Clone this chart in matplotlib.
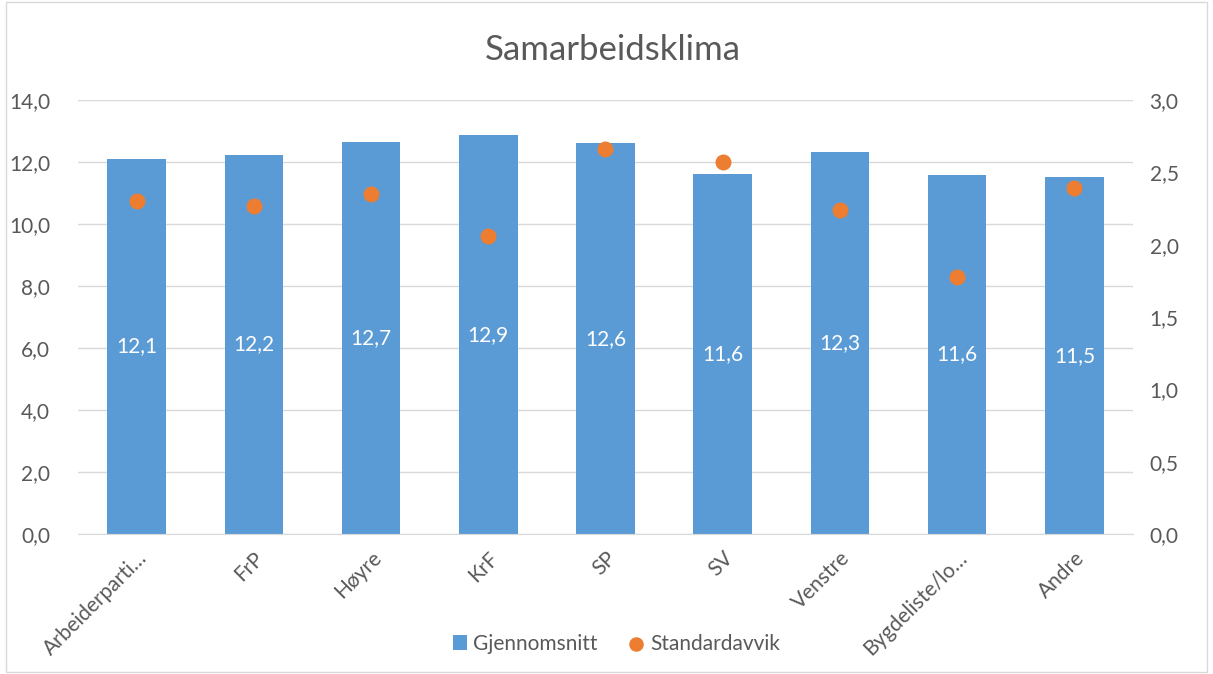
import numpy as np
import matplotlib
matplotlib.use("Agg")
import matplotlib.pyplot as plt
from matplotlib.ticker import FuncFormatter, MultipleLocator
from matplotlib.patches import Rectangle

plt.rcParams['font.family'] = ['Lato', 'DejaVu Sans']

# data
partier = ["Arbeiderparti…", "FrP", "Høyre", "KrF", "SP", "SV", "Venstre", "Bygdeliste/lo…", "Andre"]
gjennomsnitt = [12.1, 12.23, 12.65, 12.86, 12.6, 11.62, 12.33, 11.58, 11.51]
standardavvik = [2.30, 2.27, 2.35, 2.06, 2.66, 2.57, 2.24, 1.78, 2.39]

blaa = "#5b9bd5"
oransje = "#ed7d31"
graa = "#595959"

fig = plt.figure(figsize=(12.13, 6.74), dpi=100)
ax = fig.add_axes([0.0643, 0.2077, 0.8697, 0.6439])
ax2 = ax.twinx()

x = np.arange(len(partier))
bars = ax.bar(x, gjennomsnitt, width=0.5, color=blaa, zorder=2, label="Gjennomsnitt")
ax2.scatter(x, standardavvik, s=110, color=oransje, zorder=3, label="Standardavvik")

# dataetiketter
for xi, v in zip(x, gjennomsnitt):
    ax.text(xi, v / 2, f"{v:.1f}".replace(".", ","), ha="center", va="center",
            color="white", fontsize=15)

ax.set_xlim(-0.5, len(partier) - 0.5)
ax.set_ylim(0, 14)
ax2.set_ylim(0, 3)
ax.yaxis.set_major_locator(MultipleLocator(2))
ax2.yaxis.set_major_locator(MultipleLocator(0.5))
komma = FuncFormatter(lambda v, p: f"{v:.1f}".replace(".", ","))
ax.yaxis.set_major_formatter(komma)
ax2.yaxis.set_major_formatter(komma)

ax.grid(axis="y", color="#d9d9d9", linewidth=1, zorder=0)
ax.set_axisbelow(True)
for a in (ax, ax2):
    for s in a.spines.values():
        s.set_visible(False)
    a.tick_params(length=0, labelsize=15, colors=graa)
ax.spines["bottom"].set_visible(True)
ax.spines["bottom"].set_color("#d9d9d9")
ax.tick_params(axis="y", pad=20)
ax2.tick_params(axis="y", pad=12)

ax.set_xticks(x)
ax.set_xticklabels(partier, rotation=45, ha="right", rotation_mode="anchor", fontsize=15)
ax.tick_params(axis="x", pad=10)

fig.suptitle("Samarbeidsklima", x=0.505, y=0.95, fontsize=25, color=graa)

h1, l1 = ax.get_legend_handles_labels()
h2, l2 = ax2.get_legend_handles_labels()
fig.legend(h1 + h2, l1 + l2, loc="center", bbox_to_anchor=(0.508, 0.045), ncol=2,
           frameon=False, fontsize=15, labelcolor=graa, handlelength=0.7,
           handleheight=0.7, handletextpad=0.3, columnspacing=1.5, markerscale=0.9)

fig.add_artist(Rectangle((0.005, 0.003), 0.99, 0.994, transform=fig.transFigure,
                         fill=False, edgecolor="#d9d9d9", linewidth=1))

fig.savefig("out.png", dpi=100)
